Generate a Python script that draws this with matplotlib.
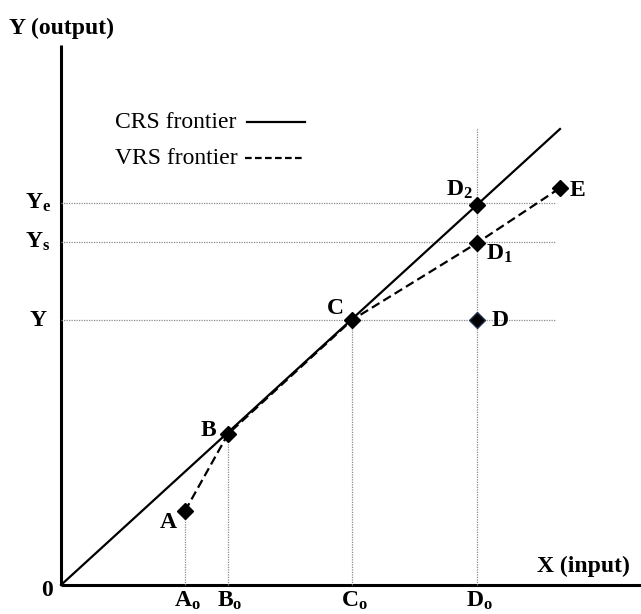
import numpy as np
import matplotlib.pyplot as plt

plt.rcParams['font.family'] = 'Liberation Serif'
plt.rcParams['mathtext.fontset'] = 'custom'
plt.rcParams['mathtext.rm'] = 'Liberation Serif:bold'
plt.rcParams['mathtext.bf'] = 'Liberation Serif:bold'
plt.rcParams['mathtext.it'] = 'Liberation Serif:bold'

# point coordinates (input, output)
names = ['A', 'B', 'C', 'D', 'D1', 'D2', 'E']
x_pts = [124, 167, 291, 416, 416, 416, 499]
y_pts = [74, 151, 265, 265, 342, 380, 397]

# frontiers
crs_x = [0, 499]
crs_y = [0, 456]
vrs_x = [124, 167, 291, 416, 499]
vrs_y = [74, 151, 265, 342, 397]

# reference levels
y_levels = [382, 343, 265]
y_level_labels = [r'$\mathbf{Y_e}$', r'$\mathbf{Y_s}$', 'Y']
x_levels = [124, 167, 291, 416]
x_level_tops = [74, 151, 265, 457]
x_level_labels = [r'$\mathbf{A_o}$', r'$\mathbf{B_o}$', r'$\mathbf{C_o}$', r'$\mathbf{D_o}$']

fig = plt.figure(figsize=(6.41, 6.14), dpi=100)
ax = fig.add_axes([0, 0, 1, 1])
ax.set_xlim(-61, 580)
ax.set_ylim(-29, 585)
ax.axis('off')

# axes
ax.plot([0, 0], [0, 540], color='black', lw=2.2, solid_capstyle='butt')
ax.plot([0, 580], [0, 0], color='black', lw=2.2, solid_capstyle='butt')

# guide lines
for yl in y_levels:
    ax.plot([0, 495], [yl, yl], color='#8a8a8a', lw=0.9, ls=(0, (1, 1)))
for xl, top in zip(x_levels, x_level_tops):
    ax.plot([xl, xl], [0, top], color='#8a8a8a', lw=0.9, ls=(0, (1, 1)))

# frontiers
ax.plot(crs_x, crs_y, color='black', lw=1.6)
ax.plot(vrs_x, vrs_y, color='black', lw=1.6, ls=(0, (4, 2)))

# points
for n, xp, yp in zip(names, x_pts, y_pts):
    ec = '#1f3550' if n == 'D' else 'black'
    ax.plot(xp, yp, marker='D', ms=8.5, color='black', mec=ec, mew=1)

fs = 17
bold = dict(fontsize=fs, fontweight='bold', ha='center', va='center')
ax.text(107, 63, 'A', **bold)
ax.text(147, 155, 'B', **bold)
ax.text(274, 277, 'C', **bold)
ax.text(439, 264, 'D', **bold)
ax.text(438, 331, r'$\mathbf{D_1}$', fontsize=fs, ha='center', va='center')
ax.text(398, 395, r'$\mathbf{D_2}$', fontsize=fs, ha='center', va='center')
ax.text(516, 395, 'E', **bold)

for yl, lab in zip(y_levels, y_level_labels):
    ax.text(-23, yl, lab, fontsize=fs, fontweight='bold', ha='center', va='center')
for xl, lab in zip(x_levels, x_level_labels):
    ax.text(xl + 2, -16, lab, fontsize=fs, fontweight='bold', ha='center', va='center')
ax.text(-14, -6, '0', **bold)

ax.text(522, 8, 'X (input)', fontsize=fs, fontweight='bold', ha='center', va='bottom')
ax.text(-52, 557, 'Y (output)', fontsize=fs, fontweight='bold', ha='left', va='center')

# legend-like labels
ax.text(54, 463, 'CRS frontier', fontsize=fs, ha='left', va='center')
ax.plot([186, 244], [463, 463], color='black', lw=1.6)
ax.text(54, 427, 'VRS frontier', fontsize=fs, ha='left', va='center')
ax.plot([184, 242], [427, 427], color='black', lw=1.6, ls=(0, (3, 1.5)))

fig.savefig('out.png', dpi=100)
